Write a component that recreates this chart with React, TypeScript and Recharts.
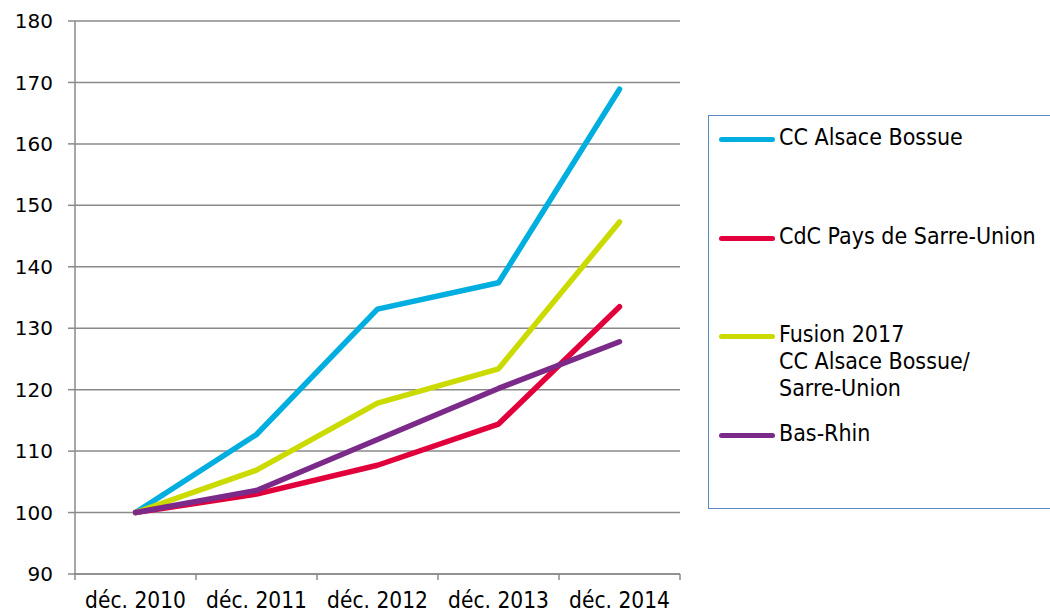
import React from 'react';
import {
  LineChart,
  Line,
  XAxis,
  YAxis,
  CartesianGrid,
  Legend
} from 'recharts';

// Index values, base 100 in déc. 2010
const categories = ['déc. 2010', 'déc. 2011', 'déc. 2012', 'déc. 2013', 'déc. 2014'];
const alsaceBossue = [100, 112.7, 133.1, 137.4, 168.9];
const sarreUnion = [100, 103.0, 107.7, 114.4, 133.5];
const fusion2017 = [100, 106.9, 117.8, 123.4, 147.3];
const basRhin = [100, 103.6, 111.9, 120.2, 127.8];
const yTicks = [90, 100, 110, 120, 130, 140, 150, 160, 170, 180];
// category positions and the boundaries between them
const xTicks = [-0.5, 0, 0.5, 1, 1.5, 2, 2.5, 3, 3.5, 4, 4.5];

const series = [
  { key: 'alsace', name: 'CC Alsace Bossue', color: '#00AEDF', values: alsaceBossue },
  { key: 'sarre', name: 'CdC Pays de Sarre-Union', color: '#E2003C', values: sarreUnion },
  { key: 'fusion', name: 'Fusion 2017\nCC Alsace Bossue/\nSarre-Union', color: '#CBDB00', values: fusion2017 },
  { key: 'basrhin', name: 'Bas-Rhin', color: '#7B2A89', values: basRhin }
];

const chartData = categories.map((label, i) => {
  const row: Record<string, any> = { x: i, label };
  series.forEach(s => { row[s.key] = s.values[i]; });
  return row;
});

const GRID = '#8a8a8a';
const TEXT_FONT = '"DejaVu Sans Condensed", "Liberation Sans", sans-serif';
const TICK_SIZE = 6;
const TICK_MARGIN = 12;

// labels on whole values, little tick marks on the boundaries
const XTick = (props: any) => {
  const { x, y, payload } = props;
  const v = payload.value;
  if (Number.isInteger(v)) {
    return (
      <text x={x} y={y} dy="0.71em" textAnchor="middle" fill="#000"
        style={{ fontFamily: TEXT_FONT, fontSize: 22.5 }}>
        {categories[v]}
      </text>
    );
  }
  const top = y - TICK_SIZE - TICK_MARGIN;
  return <line x1={x} x2={x} y1={top} y2={top + TICK_SIZE} stroke={GRID} strokeWidth={1.5} />;
};

const LegendBox = () => (
  <div style={{
    width: 360,
    height: 394,
    border: '1.5px solid #5b87c5',
    boxSizing: 'border-box',
    position: 'relative',
    fontFamily: TEXT_FONT,
    fontSize: 23,
    color: '#000'
  }}>
    {series.map((s, i) => (
      <div key={s.key} style={{ position: 'absolute', left: 10, top: 8 + i * 98.7, display: 'flex' }}>
        <div style={{ width: 56, height: 5, borderRadius: 3, background: s.color, marginTop: 13, marginRight: 4 }} />
        <div style={{ lineHeight: '27px', whiteSpace: 'pre' }}>{s.name}</div>
      </div>
    ))}
  </div>
);

export default function App() {
  return (
    <div style={{ position: 'absolute', left: 0, top: 0, width: 1050, height: 615, background: '#fff', overflow: 'hidden' }}>
      <LineChart
        width={1050}
        height={615}
        data={chartData}
        margin={{ top: 21, right: 370, bottom: 0, left: 0 }}
      >
        <CartesianGrid vertical={false} stroke={GRID} strokeWidth={1.5} />
        <XAxis
          dataKey="x"
          type="number"
          domain={[-0.5, 4.5]}
          ticks={xTicks}
          interval={0}
          height={41}
          tickLine={false}
          tickSize={TICK_SIZE}
          tickMargin={TICK_MARGIN}
          axisLine={{ stroke: GRID, strokeWidth: 1.5 }}
          tick={<XTick />}
        />
        <YAxis
          type="number"
          domain={[90, 180]}
          ticks={yTicks}
          interval={0}
          width={75}
          tickSize={7}
          tickMargin={15}
          tickLine={{ stroke: GRID, strokeWidth: 1.5 }}
          axisLine={{ stroke: GRID, strokeWidth: 1.5 }}
          tick={{ fill: '#000', fontSize: 20, fontFamily: '"DejaVu Sans", sans-serif' }}
        />
        <Legend
          layout="horizontal"
          verticalAlign="middle"
          align="center"
          content={<LegendBox />}
          wrapperStyle={{ position: 'absolute', left: 708, top: 115, width: 360, height: 394 }}
        />
        {series.map(s => (
          <Line
            key={s.key}
            dataKey={s.key}
            name={s.name}
            type="linear"
            stroke={s.color}
            strokeWidth={5.5}
            strokeLinecap="round"
            strokeLinejoin="round"
            dot={false}
            activeDot={false}
            isAnimationActive={false}
          />
        ))}
      </LineChart>
    </div>
  );
}
